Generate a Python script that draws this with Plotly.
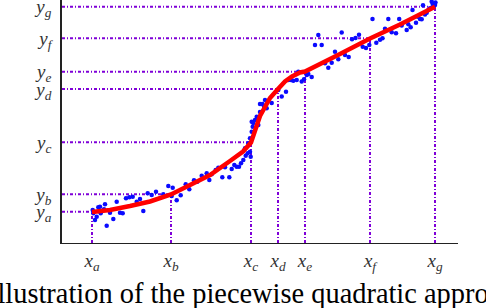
import plotly.graph_objects as go

# breakpoints of the piecewise quadratic approximation
break_x = [30, 109, 189, 216, 243, 308, 373]
break_y = [31.3, 48.7, 100.7, 154, 171.3, 204.7, 236.3]
x_labels = ["a", "b", "c", "d", "e", "f", "g"]

# fitted curve
curve_x = [30, 48, 68, 88, 109, 128, 148, 168, 181, 189, 193, 198, 203, 208, 216,
           223, 230, 238, 243, 258, 278, 308, 338, 373]
curve_y = [31, 33, 37, 41.5, 48.5, 57.5, 68, 82, 91.5, 100.5, 112, 127, 136, 145, 154,
           161.5, 166.5, 170.5, 171.5, 178.5, 189, 204.5, 218.5, 236.3]

# data samples
data_x = [30.7, 31.3, 33, 34.7, 36.3, 38, 38.7, 42, 43, 44.7, 48, 51.3, 54.7, 58, 60.7,
          64, 67.3, 70.7, 74.7, 78, 81.3, 85.7, 89.7, 94, 101.3, 106.3, 109.7, 110.7,
          114.7, 118.7, 123.7, 127.3, 132, 135.3, 139.7, 144.7, 147.3, 149.7, 153.7,
          156.3, 160.3, 163, 167.3, 169.7, 172.3, 174.7, 177, 179, 181.3, 183.7, 185.7,
          188, 188.7,
          183, 186.3, 188, 189.7, 190.7, 189.7, 191.3, 193, 194.7, 196.3, 198, 198, 200.5,
          202, 203, 204.7, 209.7, 216.3, 219.7, 224, 226.3, 229, 231.3, 234.7, 236.3,
          239.7, 242, 244.7, 246.3, 249.7, 253, 256.3, 259.7, 263, 266.3, 269.7, 273,
          276.3, 279.7, 283, 286.7, 290, 293.5, 297, 300.7, 304, 307.3, 310.5, 314.3,
          318, 320.5, 323, 326.3, 329.7, 334, 337.2, 339.7, 344.7, 346.3, 348.7, 350.5,
          354, 356, 358, 359.7, 361, 363, 364.7, 366.3, 368, 369.7, 370.7, 371.3, 372,
          373, 373.5]
data_y = [33, 29.7, 23, 26.3, 35.7, 36.3, 29.7, 33.7, 38.7, 17.3, 30.3, 24, 41.3, 30.3,
          29.7, 44.7, 45.7, 46.3, 41.3, 44, 32, 49.7, 48, 51.3, 48.7, 57, 47, 55.3, 42.7,
          47.7, 58.7, 53.7, 62.7, 61.3, 67.3, 69.7, 63, 68.7, 73, 75.3, 65.7, 75.7, 65.7,
          74, 78, 76.3, 76.3, 79.7, 83, 87.3, 89.7, 91.3, 86.3,
          94.7, 99.7, 104.7, 111.3, 116.3, 121.3, 120, 123, 126.3, 118, 131, 139, 139,
          136.5, 143, 134.7, 140, 153, 146.5, 151.3, 163, 163, 162.3, 163, 171.3,
          161.5, 163.7, 168, 169, 166, 198, 208, 198, 179.7, 175.3, 180.3, 191.3,
          183.7, 210.5, 188, 186, 203.7, 205, 208.3, 196.3, 195, 198, 224, 200.3,
          203.3, 204.7, 214.3, 224, 210.7, 209.7, 224, 217.5, 213, 218.7, 215.7, 233,
          220.3, 226.3, 224, 223.7, 237.7, 228.5, 230.3, 233, 234.7, 241.3, 239, 235.7,
          237, 238, 240.5]

x_range = [0, 396]
y_range = [0, 243]

purple = "#7f00d8"
guide_dash = "3px,2px,1px,2px"

fig = go.Figure()

# guide lines
vx, vy, hx, hy = [], [], [], []
for bx, by in zip(break_x, break_y):
    vx += [bx, bx, None]
    vy += [y_range[0], by, None]
    hx += [x_range[0], bx, None]
    hy += [by, by, None]
fig.add_trace(go.Scatter(x=vx, y=vy, mode="lines", line=dict(color=purple, width=2, dash=guide_dash),
                         hoverinfo="skip", showlegend=False, cliponaxis=False))
fig.add_trace(go.Scatter(x=hx, y=hy, mode="lines", line=dict(color=purple, width=2, dash=guide_dash),
                         hoverinfo="skip", showlegend=False, cliponaxis=False))

fig.add_trace(go.Scatter(x=data_x, y=data_y, mode="markers",
                         marker=dict(color="#0a0aff", size=4.5, line=dict(width=0)),
                         showlegend=False, cliponaxis=False))
fig.add_trace(go.Scatter(x=curve_x, y=curve_y, mode="lines",
                         line=dict(color="#ff0000", width=4.5), showlegend=False, cliponaxis=False))

tick_font = dict(family="Liberation Serif", size=19, color="#333333")
fig.update_xaxes(range=x_range, showgrid=False, zeroline=False, showline=True,
                 linecolor="#222222", linewidth=1, ticks="", automargin=False,
                 tickvals=break_x, ticklabeloverflow="allow",
                 ticktext=[f"<i>x</i><sub><i>{s}</i></sub>" for s in x_labels],
                 tickfont=tick_font, ticklabelstandoff=0)
fig.update_yaxes(range=y_range, showgrid=False, zeroline=False, showline=True,
                 linecolor="#222222", linewidth=1.5, ticks="", automargin=False,
                 tickvals=break_y, ticklabeloverflow="allow",
                 ticktext=[f"<i>y</i><sub><i>{s}</i></sub>" for s in x_labels],
                 tickfont=tick_font, ticklabelstandoff=5)

fig.add_annotation(text="Illustration of the piecewise quadratic approximation",
                   xref="paper", yref="paper", x=-0.191, y=-0.206,
                   xanchor="left", yanchor="middle", showarrow=False,
                   font=dict(family="Liberation Serif", size=28.4, color="#000000"))

fig.update_layout(width=486, height=308, margin=dict(l=62, r=28, t=0, b=65, autoexpand=False),
                  plot_bgcolor="white", paper_bgcolor="white")

fig.write_html("out.html", config={"displayModeBar": False},
               post_script="document.body.style.margin='0';")
